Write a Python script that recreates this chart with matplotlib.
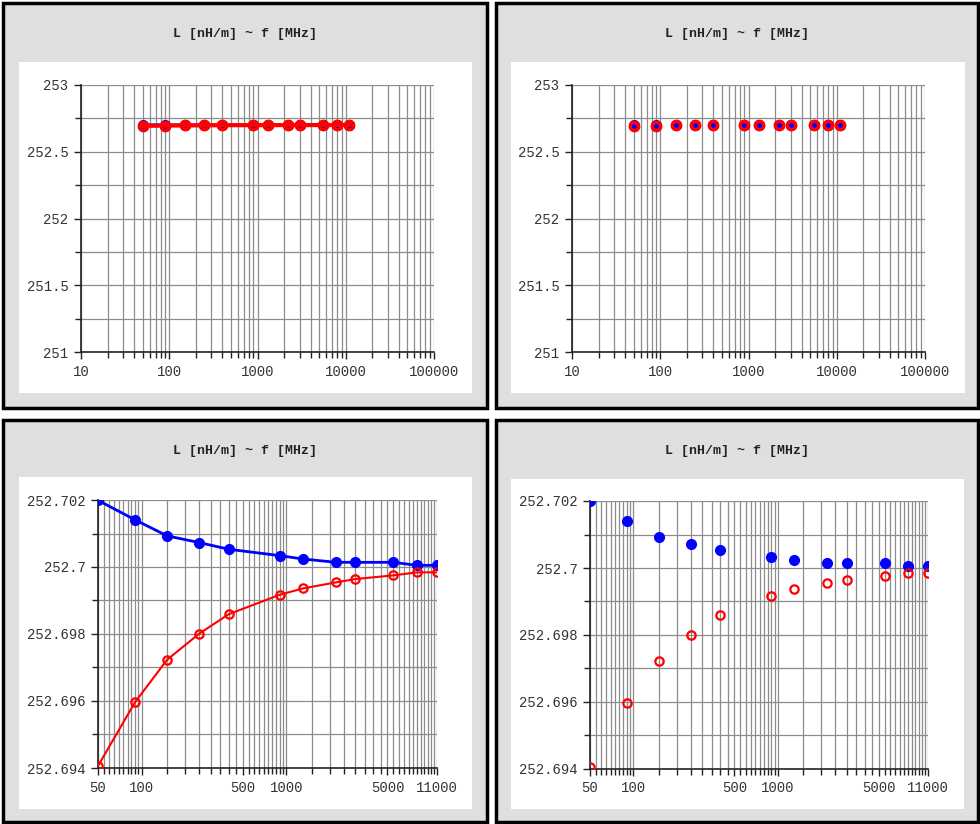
import numpy as np
import matplotlib
matplotlib.use('Agg')
import matplotlib.pyplot as plt
from matplotlib.patches import Rectangle
from matplotlib.ticker import FixedLocator, FuncFormatter

plt.rcParams['font.family'] = ['Liberation Mono', 'DejaVu Sans']

# Frequency points [MHz]
freq = [50, 90, 150, 250, 400, 900, 1300, 2200, 3000, 5500, 8000, 11000]

# Inductance series [nH/m]
L_blue = [252.70199, 252.70141, 252.70093, 252.70073, 252.70053, 252.70034,
          252.70024, 252.70014, 252.70014, 252.70014, 252.70005, 252.70005]
L_red = [252.69406, 252.69596, 252.69723, 252.69801, 252.69859, 252.69917,
         252.69936, 252.69954, 252.69964, 252.69975, 252.69984, 252.69984]

title = 'L [nH/m] ~ f [MHz]'
W, H = 980, 824

fig = plt.figure(figsize=(W / 100, H / 100), dpi=100)
fig.patch.set_facecolor('white')


def box(x0, y0, x1, y1):
    # pixel box -> figure fraction [left, bottom, width, height]
    return [x0 / W, 1 - y1 / H, (x1 - x0) / W, (y1 - y0) / H]


def panel(outer, inner, title_y):
    l, b, w, h = box(*outer)
    fig.add_artist(Rectangle((l, b), w, h, transform=fig.transFigure,
                             facecolor='#dfdfdf', edgecolor='black', lw=2.5,
                             zorder=-10))
    l, b, w, h = box(*inner)
    fig.add_artist(Rectangle((l, b), w, h, transform=fig.transFigure,
                             facecolor='white', edgecolor='none', zorder=-9))
    cx = (outer[0] + outer[2]) / 2 / W
    fig.text(cx, 1 - title_y / H, title, ha='center', va='center',
             fontweight='bold', fontsize=9.5, color='#222222')


def style_axes(ax, xlim, ylim, xmajor, xminor, ymajor, yminor):
    ax.set_facecolor('none')
    ax.set_xscale('log')
    ax.set_xlim(*xlim)
    ax.set_ylim(*ylim)
    ax.xaxis.set_major_locator(FixedLocator(xmajor))
    ax.xaxis.set_minor_locator(FixedLocator(xminor))
    ax.yaxis.set_major_locator(FixedLocator(ymajor))
    ax.yaxis.set_minor_locator(FixedLocator(yminor))
    ax.xaxis.set_major_formatter(FuncFormatter(lambda v, p: '%g' % v))
    ax.xaxis.set_minor_formatter(FuncFormatter(lambda v, p: ''))
    ax.yaxis.set_major_formatter(FuncFormatter(lambda v, p: '%g' % round(v, 4)))
    ax.grid(True, which='both', color='#8c8c8c', lw=0.9)
    ax.set_axisbelow(True)
    for s in ['top', 'right']:
        ax.spines[s].set_visible(False)
    for s in ['left', 'bottom']:
        ax.spines[s].set_color('#222222')
        ax.spines[s].set_linewidth(1.2)
    ax.tick_params(which='both', direction='out', color='#222222', width=1)
    ax.tick_params(which='major', length=5, pad=4, labelsize=10, labelcolor='#333333')
    ax.tick_params(which='minor', length=4)


# Panel frames
panel((3, 3, 487, 408), (19, 62, 472, 393), 34)
panel((496, 3, 978, 408), (511, 62, 965, 393), 34)
panel((3, 420, 487, 822), (19, 477, 472, 809), 451)
panel((496, 420, 978, 822), (511, 479, 964, 809), 451)

# Tick positions
top_xmajor = [10, 100, 1000, 10000, 100000]
top_xminor = [m * 10 ** k for k in range(1, 5) for m in range(2, 10)]
top_ymajor = [251, 251.5, 252, 252.5, 253]
top_yminor = [251.25, 251.75, 252.25, 252.75]

bot_xmajor = [50, 100, 500, 1000, 5000, 11000]
bot_xminor = []
for dec in [10, 100, 1000]:
    for m in np.arange(1.0, 10.01, 0.5):
        v = m * dec
        if 50 <= v <= 11000:
            bot_xminor.append(v)
bot_xminor += [10500, 11000]
bot_ymajor = [252.694, 252.696, 252.698, 252.700, 252.702]
bot_yminor = [252.695, 252.697, 252.699, 252.701]

# Top-left: lines + markers
ax1 = fig.add_axes(box(81, 85, 434, 352))
style_axes(ax1, (10, 100000), (251, 253), top_xmajor, top_xminor, top_ymajor, top_yminor)
ax1.plot(freq, L_blue, '-o', color='blue', lw=2, ms=7, zorder=3)
ax1.plot(freq, L_red, '-o', color='red', lw=3, ms=6, mfc='none', mew=2.5, zorder=4)

# Top-right: markers only
ax2 = fig.add_axes(box(572, 85, 925, 352))
style_axes(ax2, (10, 100000), (251, 253), top_xmajor, top_xminor, top_ymajor, top_yminor)
ax2.plot(freq, L_blue, 'o', color='blue', ms=7, zorder=3)
ax2.plot(freq, L_red, 'o', color='red', ms=6, mfc='none', mew=2.5, zorder=4)

# Bottom-left: zoomed, lines + markers
ax3 = fig.add_axes(box(98, 500, 437, 768))
style_axes(ax3, (50, 11000), (252.694, 252.702), bot_xmajor, bot_xminor, bot_ymajor, bot_yminor)
ax3.plot(freq, L_blue, '-o', color='blue', lw=2, ms=7, zorder=3)
ax3.plot(freq, L_red, '-o', color='red', lw=1.5, ms=6, mfc='none', mew=1.6, zorder=4)

# Bottom-right: zoomed, markers only
ax4 = fig.add_axes(box(590, 501, 928, 769))
style_axes(ax4, (50, 11000), (252.694, 252.702), bot_xmajor, bot_xminor, bot_ymajor, bot_yminor)
ax4.plot(freq, L_blue, 'o', color='blue', ms=7, zorder=3)
ax4.plot(freq, L_red, 'o', color='red', ms=6, mfc='none', mew=1.6, zorder=4)

fig.savefig('out.png', dpi=100, facecolor='white')
